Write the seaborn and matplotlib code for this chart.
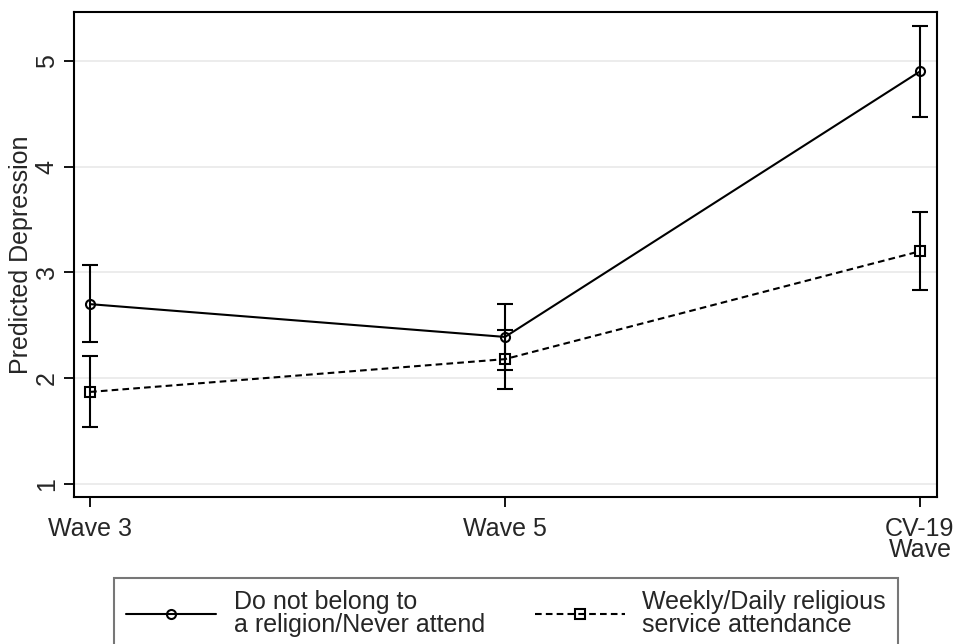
import numpy as np
import pandas as pd
import matplotlib
matplotlib.use("Agg")
import matplotlib.pyplot as plt
import seaborn as sns

waves = ["Wave 3", "Wave 5", "CV-19\nWave"]
groups = ["Do not belong to\na religion/Never attend",
          "Weekly/Daily religious\nservice attendance"]

never_mean = [2.70, 2.39, 4.90]
never_lo = [2.34, 2.08, 4.47]
never_hi = [3.07, 2.70, 5.33]

weekly_mean = [1.87, 2.18, 3.20]
weekly_lo = [1.54, 1.90, 2.83]
weekly_hi = [2.21, 2.46, 3.57]

y_ticks = [1, 2, 3, 4, 5]

sns.set_style("white")
plt.rcParams["font.family"] = ["Liberation Sans", "DejaVu Sans"]
FS = 18

pos = np.arange(len(waves))
df = pd.DataFrame({
    "pos": np.concatenate([pos, pos]),
    "mean": never_mean + weekly_mean,
    "lo": never_lo + weekly_lo,
    "hi": never_hi + weekly_hi,
    "group": [groups[0]] * 3 + [groups[1]] * 3,
})

fig = plt.figure(figsize=(9.59, 6.44), dpi=100)
ax = fig.add_axes([0.0772, 0.228, 0.8998, 0.753])

styles = {groups[0]: ("-", "o", 10), groups[1]: ((0, (3.2, 2.0)), "s", 8.5)}
for g in groups:
    sub = df[df["group"] == g]
    ls, mk, ms = styles[g]
    ax.errorbar(sub["pos"], sub["mean"],
                yerr=[sub["mean"] - sub["lo"], sub["hi"] - sub["mean"]],
                fmt="none", ecolor="black", elinewidth=1.5, capsize=6, capthick=1.5, zorder=2)
    sns.lineplot(data=sub, x="pos", y="mean", ax=ax, color="black", linestyle=ls,
                 linewidth=1.5, marker=mk, markersize=ms, markerfacecolor="none",
                 markeredgecolor="black", markeredgewidth=1.5, label=g, legend=False,
                 zorder=3)

ax.set_xlim(-0.0386, 2.041)
ax.set_ylim(0.875, 5.46)
ax.set_xticks(pos)
ax.set_xticklabels(waves, fontsize=FS, linespacing=0.85)
ax.set_yticks(y_ticks)
ax.set_yticklabels([str(t) for t in y_ticks], fontsize=FS, rotation=90, va="center")
ax.set_xlabel("")
ax.set_ylabel("Predicted Depression", fontsize=FS)
ax.yaxis.set_label_coords(-0.047, 0.5)
ax.yaxis.grid(True, color="#eaeaea", linewidth=1.3)
ax.set_axisbelow(True)
ax.tick_params(axis="both", direction="out", length=7, width=1.3, color="black",
               left=True, bottom=True)
ax.tick_params(axis="x", pad=7)
ax.tick_params(axis="y", pad=4)
for s in ax.spines.values():
    s.set_color("black")
    s.set_linewidth(1.5)

handles, labels = ax.get_legend_handles_labels()
for h in handles:
    h.set_markersize(6.5)
leg = fig.legend(handles, labels, loc="upper center", bbox_to_anchor=(0.5276, 0.1025),
                 ncol=2, fontsize=FS, frameon=True, fancybox=False, handlelength=3.6,
                 columnspacing=2.0, handletextpad=0.7, borderpad=0.5,
                 labelspacing=0.2, borderaxespad=0)
leg.get_frame().set_edgecolor("#555555")
leg.get_frame().set_linewidth(1.5)
for t in leg.get_texts():
    t.set_linespacing(0.9)

fig.savefig("out.png", dpi=100)
